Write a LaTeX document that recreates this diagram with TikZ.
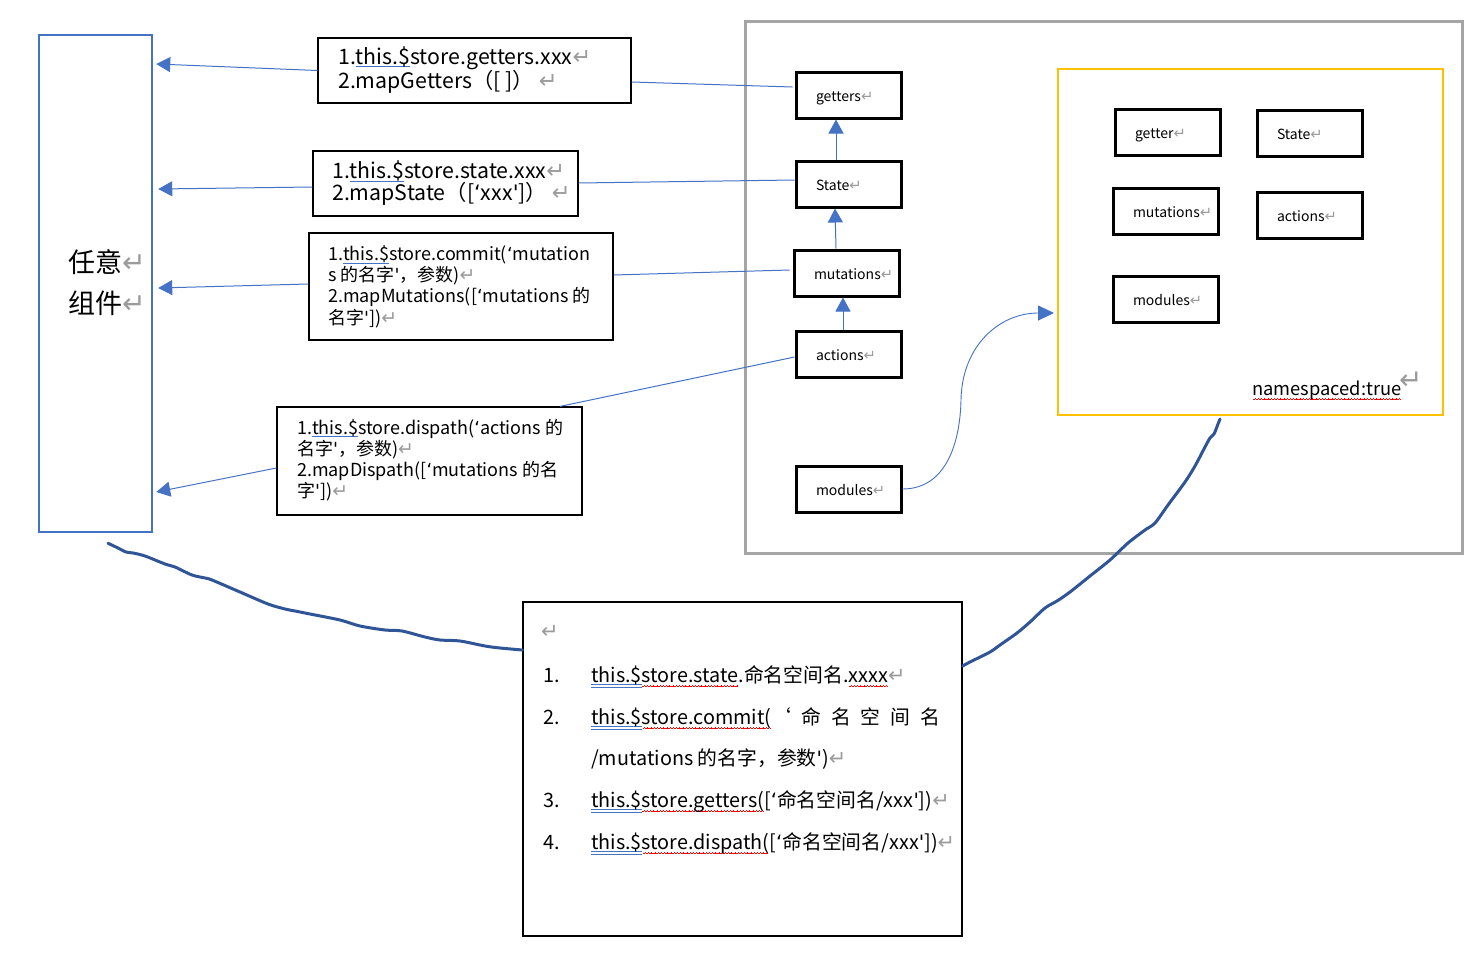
\documentclass[tikz,border=0pt]{standalone}
\usepackage{fontspec}
\setmainfont{Noto Sans CJK SC}
\newfontfamily\symfont{DejaVu Sans}
\usetikzlibrary{arrows.meta,calc}
\definecolor{ublue}{RGB}{68,114,196}
\definecolor{dblue}{RGB}{47,85,151}
\definecolor{gbox}{RGB}{165,165,165}
\definecolor{ybox}{RGB}{255,192,0}
\definecolor{pmark}{RGB}{155,155,155}
\newsavebox\ulbox
\newcommand\retmark{{\color{pmark}\symfont\scalebox{1.05}{↵}}}
\newcommand\oq{{\symfont ‘}}
\newcommand\cq{{\symfont '}}
\newcommand\bul[1]{\sbox\ulbox{#1}\rlap{\color{ublue}\rule[-3pt]{\wd\ulbox}{0.9pt}}\usebox\ulbox}
\newcommand\dbul[1]{\sbox\ulbox{#1}\rlap{\color{ublue}\rule[-3pt]{\wd\ulbox}{0.8pt}}\rlap{\color{ublue}\rule[-5.5pt]{\wd\ulbox}{0.8pt}}\usebox\ulbox}
\newcommand\wavebit{\rule[-5pt]{0.8pt}{0.7pt}\rule[-4.2pt]{0.8pt}{0.7pt}\rule[-3.4pt]{0.8pt}{0.7pt}\rule[-4.2pt]{0.8pt}{0.7pt}}
\newcommand\rwave[1]{\sbox\ulbox{#1}\rlap{\color{red}\hbox to \wd\ulbox{\cleaders\hbox{\wavebit}\hfill}}\usebox\ulbox}
\begin{document}
\begin{tikzpicture}[x=1pt,y=-1pt,
  tbox/.style={draw=black, line width=1.2pt, inner sep=0pt},
  ttext/.style={anchor=west, align=left, inner sep=0pt},
  kbox/.style={draw=black, line width=3pt, minimum width=105pt, minimum height=46pt,
    text width=65pt, inner xsep=20pt, inner ysep=0pt, align=left,
    text height=13pt, text depth=1pt,
    font=\fontsize{14}{16}\selectfont},
  blink/.style={draw=ublue, line width=1pt},
  barrow/.style={blink, -{Triangle[width=15pt,length=14pt]}},
  wave/.style={draw=dblue, line width=3pt, line cap=round, line join=round}]
\useasboundingbox (0,0) rectangle (1478,969);
\fill[white] (0,0) rectangle (1478,969);

% left component box
\node[draw=ublue, line width=2.5pt, minimum width=113pt, minimum height=497pt, inner sep=0pt] (L) at (95.5,283.5) {};
\node[ttext, font=\fontsize{27}{41}\selectfont] (Lt) at (68,283) {任意\retmark\\组件\retmark};

% big gray store box and yellow module box
\node[draw=gbox, line width=3pt, minimum width=717pt, minimum height=532pt, inner sep=0pt] (G) at (1103.5,287) {};
\node[draw=ybox, line width=2pt, minimum width=385pt, minimum height=346pt, inner sep=0pt] (Y) at (1250.5,242) {};

% text boxes
\node[tbox, minimum width=313pt, minimum height=65pt] (b1) at (474.5,70.5) {};
\node[ttext, font=\fontsize{21.3}{23}\selectfont] (t1) at (338,70) {1.\bul{this.\$}store.getters.xxx\retmark\\2.mapGetters（[ ]） \retmark};
\node[tbox, minimum width=265pt, minimum height=65pt] (b2) at (445.5,183.5) {};
\node[ttext, font=\fontsize{21.3}{22}\selectfont] (t2) at (332,183) {1.\bul{this.\$}store.state.xxx\retmark\\2.mapState（[\oq xxx\cq]） \retmark};
\node[tbox, minimum width=304pt, minimum height=107pt] (b3) at (461,286.5) {};
\node[ttext, font=\fontsize{18}{21.2}\selectfont] (t3) at (328,286.5) {1.\bul{this.\$}store.commit(\oq mutation\\s 的名字\cq，参数)\retmark\\2.mapMutations([\oq mutations 的\\名字\cq])\retmark};
\node[tbox, minimum width=305pt, minimum height=108pt] (b4) at (429.5,461) {};
\node[ttext, font=\fontsize{18}{21.2}\selectfont] (t4) at (297,460) {1.\bul{this.\$}store.dispath(\oq actions 的\\名字\cq，参数)\retmark\\2.mapDispath([\oq mutations 的名\\字\cq])\retmark};

% store nodes
\node[kbox] (gt) at (848.5,95) {getters\retmark};
\node[kbox] (st) at (848.5,184) {State\retmark};
\node[kbox] (mu) at (846.5,273) {mutations\retmark};
\node[kbox] (ac) at (848.5,354) {actions\retmark};
\node[kbox] (mo) at (848.5,489) {modules\retmark};

% module nodes
\node[kbox] (ygt) at (1167.5,132) {getter\retmark};
\node[kbox] (yst) at (1309.5,133) {State\retmark};
\node[kbox] (ymu) at (1165.5,211) {mutations\retmark};
\node[kbox] (yac) at (1309.5,215) {actions\retmark};
\node[kbox] (ymo) at (1165.5,299) {modules\retmark};
\node[anchor=base west, inner sep=0pt, font=\fontsize{18.3}{22}\selectfont] (ns) at (1252,395) {\rwave{namespaced:true}};
\node[anchor=base west, inner sep=0pt, font=\fontsize{28}{30}\selectfont, text=pmark] (nsr) at (1399,389) {\symfont ↵};

% arrows inside the store
\draw[barrow] ([xshift=-12.5pt]st.north) -- ([xshift=-12.5pt]gt.south);
\draw[barrow] ([xshift=-10.5pt]mu.north) -- ([xshift=-13.5pt]st.south);
\draw[barrow] ([xshift=-5.5pt]ac.north) -- ([xshift=-3.5pt]mu.south);

% links from text boxes to store nodes
\draw[blink] ([yshift=-11.5pt]b1.east) -- ([yshift=8pt,xshift=-2pt]gt.west);
\draw[blink] ([yshift=0.5pt]b2.east) -- ([yshift=4pt]st.west);
\draw[blink] ([yshift=11.5pt]b3.east) -- ([yshift=3pt,xshift=-3pt]mu.west);
\draw[blink] ([xshift=130.5pt]b4.north) -- ([yshift=-3pt]ac.west);

% arrows to component
\draw[barrow] (b1.west) -- ([yshift=219.5pt,xshift=3pt]L.east);
\draw[barrow] ([yshift=-3.5pt]b2.west) -- ([yshift=94.5pt,xshift=5pt]L.east);
\draw[barrow] ([yshift=2.5pt]b3.west) -- ([yshift=-4.5pt,xshift=5pt]L.east);
\draw[barrow] ([yshift=-7pt]b4.west) -- ([yshift=-208.5pt,xshift=3pt]L.east);

% modules -> module box
\coordinate (mm) at (961,400);
\draw[blink, line width=0.9pt, -{Triangle[width=15pt,length=16pt]}] (mo.east) .. controls (945,489) and (960,445) .. (mm) .. controls (962,345) and (1000,313) .. ([yshift=-71pt,xshift=-3pt]Y.west);

% bottom box
\node[tbox, minimum width=439pt, minimum height=334pt] (B) at (742.5,769) {};
\begin{scope}[every node/.style={anchor=base west, inner sep=0pt, font=\fontsize{19.8}{21}\selectfont}]
\node[font=\fontsize{20}{21}\selectfont] (r0) at (541,638) {\retmark};
\node (n1) at (543,682) {1.};
\node (l1) at (591,682) {\dbul{this.\$}\rwave{store.state}.命名空间名.\rwave{xxxx}\retmark};
\node (n2) at (543,724) {2.};
\node (l2) at (591,724) {\hbox to 349pt{\dbul{this.\$}\rwave{store.commit(}‘\hfill 命\hfill 名\hfill 空\hfill 间\hfill 名}};
\node (l2b) at (591,765) {/mutations 的名字，参数\cq)\retmark};
\node (n3) at (543,807) {3.};
\node (l3) at (591,807) {\dbul{this.\$}\rwave{store.getters(}[\oq 命名空间名/xxx\cq])\retmark};
\node (n4) at (543,849) {4.};
\node (l4) at (591,849) {\dbul{this.\$}\rwave{store.dispath(}[\oq 命名空间名/xxx\cq])\retmark};
\end{scope}

% hand-drawn wavy connectors
\coordinate (w1a) at ([xshift=12.5pt,yshift=-10pt]L.south);
\coordinate (w1b) at ([yshift=119pt]B.west);
\draw[wave] plot[smooth, tension=0.5] coordinates {(w1a) (118,548) (126,552) (133,553) (145,556) (165,564) (175,567) (192,575) (205,578) (212,580) (240,592) (268,604) (285,609) (295,611) (310,614) (340,620) (360,626) (385,630) (402,631) (425,637) (440,640) (460,641) (485,646) (500,648) (w1b)};
\coordinate (w2a) at ([yshift=103pt]B.east);
\coordinate (w2b) at ([xshift=-30.5pt,yshift=-3pt]Y.south);
\draw[wave] plot[smooth, tension=0.5] coordinates {(w2a) (970,662) (990,652) (1000,645) (1017,633) (1030,622) (1045,608) (1057,601) (1070,592) (1090,576) (1110,560) (1128,543) (1145,530) (1155,523) (1168,505) (1185,482) (1195,466) (1205,447) (1210,438) (1214,434) (1218,424) (w2b)};
\end{tikzpicture}
\end{document}
